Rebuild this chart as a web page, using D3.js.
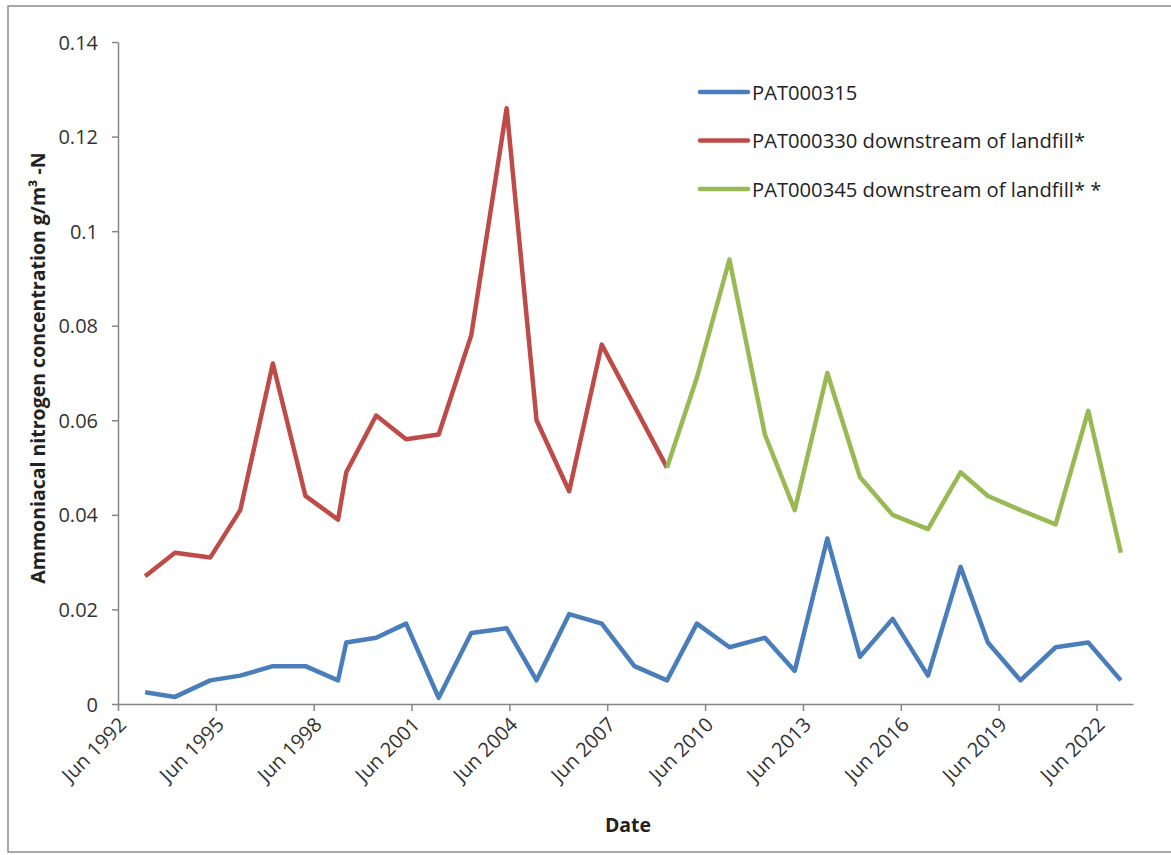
<!DOCTYPE html>
<html>
<head>
<meta charset="utf-8">
<script src="https://cdn.jsdelivr.net/npm/d3@7"></script>
<style>
  body { margin: 0; background: #fff; }
  svg text { font-family: "Open Sans", Carlito, Calibri, sans-serif; fill: #222; }
</style>
</head>
<body>
<div id="chart"></div>
<script>
// sample dates (year-month), one visit a year, two in 1999
const dates = ["1993-04", "1994-03", "1995-04", "1996-03", "1997-03", "1998-03", "1999-03", "1999-06",
  "2000-05", "2001-04", "2002-04", "2003-04", "2004-05", "2005-04", "2006-04", "2007-04", "2008-04",
  "2009-04", "2010-03", "2011-03", "2012-04", "2013-03", "2014-03", "2015-03", "2016-03", "2017-04",
  "2018-04", "2019-02", "2020-02", "2021-03", "2022-03", "2023-03"];

const pat315 = [0.0025, 0.0015, 0.005, 0.006, 0.008, 0.008, 0.005, 0.013, 0.014, 0.017, 0.0013, 0.015,
  0.016, 0.005, 0.019, 0.017, 0.008, 0.005, 0.017, 0.012, 0.014, 0.007, 0.035, 0.010, 0.018, 0.006,
  0.029, 0.013, 0.005, 0.012, 0.013, 0.005];

// PAT000330 runs from the first visit to 2009, PAT000345 from 2009 on
const pat330 = [0.027, 0.032, 0.031, 0.041, 0.072, 0.044, 0.039, 0.049, 0.061, 0.056, 0.057, 0.078,
  0.126, 0.060, 0.045, 0.076, 0.063, 0.050];
const pat345 = [0.050, 0.069, 0.094, 0.057, 0.041, 0.070, 0.048, 0.040, 0.037, 0.049, 0.044, 0.041,
  0.038, 0.062, 0.032];

const yTicks = [0, 0.02, 0.04, 0.06, 0.08, 0.1, 0.12, 0.14];
const xTickYears = [1992, 1995, 1998, 2001, 2004, 2007, 2010, 2013, 2016, 2019, 2022];

const seriesNames = ["PAT000315", "PAT000330 downstream of landfill*", "PAT000345 downstream of landfill* *"];
const colors = ["#4a7ebb", "#be4b48", "#98b954"];

const parse = d3.timeParse("%Y-%m");

const series = [
  { name: seriesNames[0], color: colors[0], values: pat315.map((v, i) => ({ date: parse(dates[i]), value: v })) },
  { name: seriesNames[1], color: colors[1], values: pat330.map((v, i) => ({ date: parse(dates[i]), value: v })) },
  { name: seriesNames[2], color: colors[2], values: pat345.map((v, i) => ({ date: parse(dates[i + 17]), value: v })) }
];

const W = 1171, H = 855;

const svg = d3.select("#chart")
  .append("svg")
    .attr("width", W)
    .attr("height", H);

// outer frame
svg.append("rect")
  .attr("x", 8).attr("y", 6)
  .attr("width", W + 20).attr("height", 846)
  .attr("fill", "none")
  .attr("stroke", "#8c8c8c")
  .attr("stroke-width", 1.5);

const x = d3.scaleTime()
  .domain([new Date(1992, 5, 1), new Date(2023, 6, 15)])
  .range([118, 1133]);

const y = d3.scaleLinear()
  .domain([0, 0.14])
  .range([704, 42]);

// Y axis
const yAxis = svg.append("g")
  .attr("transform", "translate(118,0)")
  .call(d3.axisLeft(y).tickValues(yTicks).tickFormat(d => String(+d.toFixed(2))).tickSize(6).tickSizeOuter(0));
yAxis.select(".domain").attr("stroke", "#868686").attr("stroke-width", 1.5);
yAxis.selectAll(".tick line").attr("stroke", "#868686").attr("stroke-width", 1.5);
yAxis.selectAll("text")
  .attr("x", -20)
  .attr("dy", "0.35em")
  .style("font-size", "20px")
  .style("fill", "#333");

// X axis
const xAxis = svg.append("g")
  .attr("transform", "translate(0,704)")
  .call(d3.axisBottom(x)
    .tickValues(xTickYears.map(yr => new Date(yr, 5, 1)))
    .tickFormat(d3.timeFormat("Jun %Y"))
    .tickSize(7).tickSizeOuter(0));
xAxis.select(".domain").attr("stroke", "#868686").attr("stroke-width", 1.5);
xAxis.selectAll(".tick line").attr("stroke", "#868686").attr("stroke-width", 1.5);
xAxis.selectAll("text")
  .attr("y", 0).attr("dy", 0)
  .attr("transform", "translate(9,22) rotate(-45)")
  .style("text-anchor", "end")
  .style("font-size", "20px")
  .style("fill", "#333");

// axis titles
svg.append("text")
  .attr("transform", "translate(45,368) rotate(-90)")
  .attr("text-anchor", "middle")
  .style("font-size", "19.5px")
  .style("font-weight", "bold")
  .text("Ammoniacal nitrogen concentration g/m³ -N");

svg.append("text")
  .attr("x", 628)
  .attr("y", 832)
  .attr("text-anchor", "middle")
  .style("font-size", "19.5px")
  .style("font-weight", "bold")
  .text("Date");

// lines
const line = d3.line()
  .x(d => x(d.date))
  .y(d => y(d.value));

series.forEach(s => {
  svg.append("path")
    .datum(s.values)
    .attr("fill", "none")
    .attr("stroke", s.color)
    .attr("stroke-width", 4.5)
    .attr("stroke-linejoin", "round")
    .attr("d", line);
});

// legend
const legend = svg.append("g").attr("transform", "translate(700,92)");
series.forEach((s, i) => {
  const g = legend.append("g").attr("transform", `translate(0,${i * 48.5})`);
  g.append("line")
    .attr("x1", 0).attr("x2", 48)
    .attr("stroke", s.color)
    .attr("stroke-width", 4.5)
    .attr("stroke-linecap", "round");
  g.append("text")
    .attr("x", 52)
    .attr("y", 7.5)
    .style("font-size", "20.2px")
    .text(s.name);
});
</script>
</body>
</html>
